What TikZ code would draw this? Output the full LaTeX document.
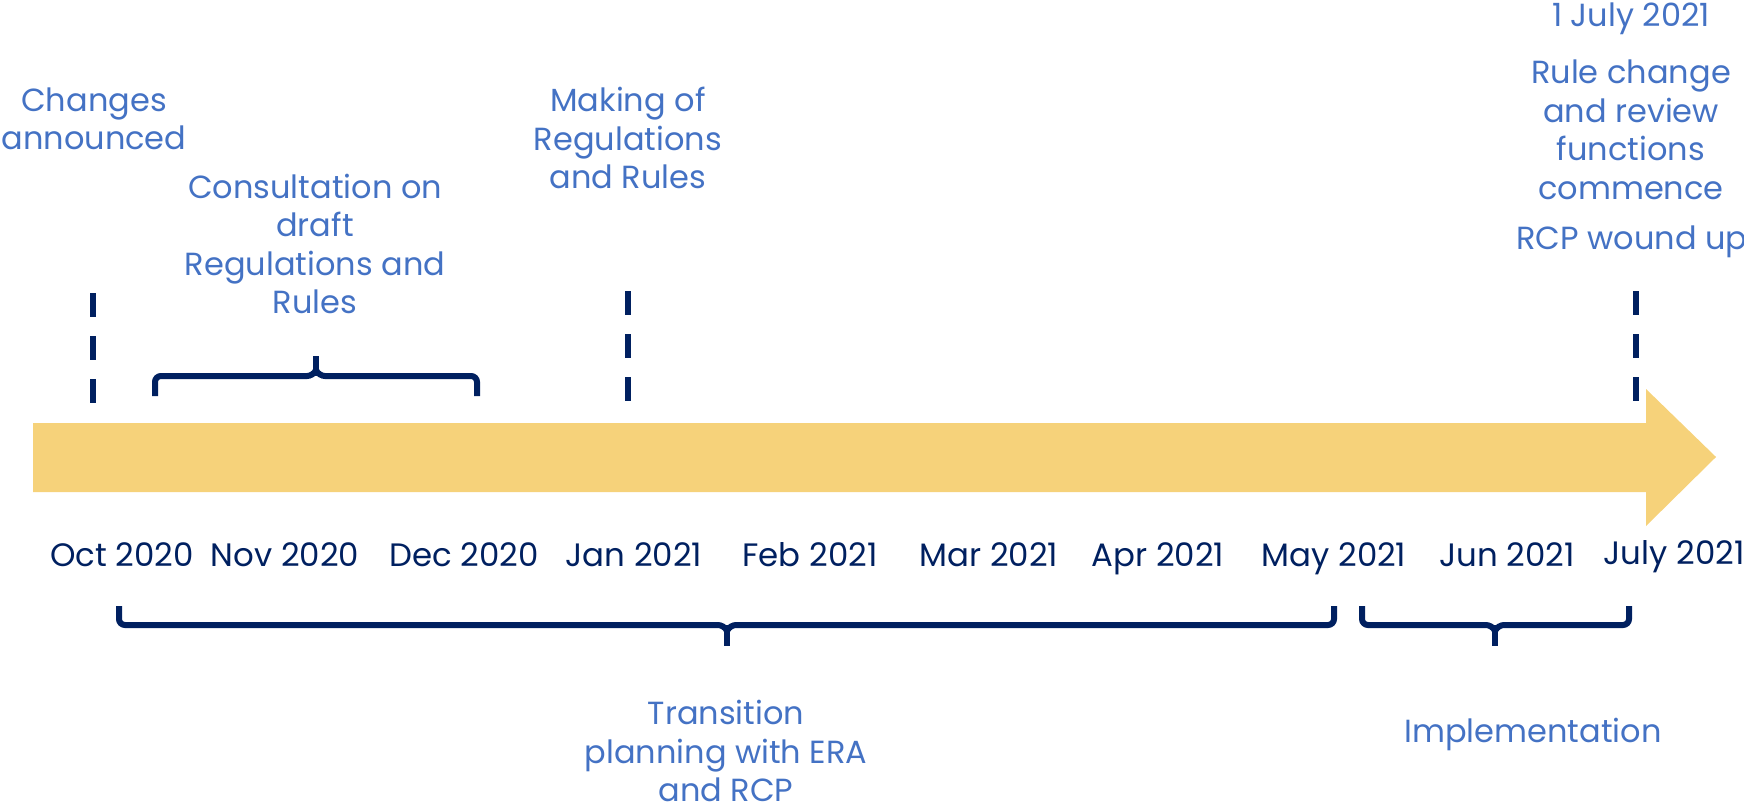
\documentclass[tikz,border=0pt]{standalone}
\usepackage{fontspec}
\setmainfont{Poppins}
\definecolor{txtblue}{HTML}{4472C4}
\definecolor{navy}{HTML}{002060}
\definecolor{arrowyellow}{HTML}{F6D27A}
\begin{document}
\begin{tikzpicture}[x=1pt,y=-1pt,
  lbl/.style={text=txtblue, align=center, font=\fontsize{32}{38.5}\selectfont, inner sep=0pt},
  month/.style={text=navy, font=\fontsize{32.4}{36}\selectfont, inner sep=0pt, anchor=base},
  dashline/.style={draw=navy, line width=6.5pt, dash pattern=on 24pt off 19pt},
  bracket/.style={draw=navy, line width=6pt, rounded corners=6pt}]
\useasboundingbox (0,0) rectangle (1744,805);
% timeline arrow
\fill[arrowyellow] (33,423) -- (1646,423) -- (1646,389) -- (1716,457) -- (1646,526) -- (1646,492) -- (33,492) -- cycle;
% top labels
\node[lbl] (chg) at (94,119) {Changes\\announced};
\node[lbl] (cons) at (315,244) {Consultation on\\draft\\Regulations and\\Rules};
\node[lbl] (mak) at (628,138) {Making of\\Regulations\\and Rules};
\node[lbl] (jul1) at (1631,19) {1 July 2021};
\node[lbl] (rule) at (1631,130) {Rule change\\and review\\functions\\commence};
\node[lbl] (rcp) at (1632,242) {RCP wound up};
% dashed markers
\coordinate (d1a) at (93,293); \coordinate (d1b) at (93,403);
\coordinate (d2a) at (628,291); \coordinate (d2b) at (628,401);
\coordinate (d3a) at (1636,291); \coordinate (d3b) at (1636,401);
\draw[dashline] (d1a) -- (d1b);
\draw[dashline] (d2a) -- (d2b);
\draw[dashline] (d3a) -- (d3b);
% consultation bracket
\draw[bracket] (155,396) -- (155,376) -- (313,376) -- (316,370);
\draw[bracket] (477,396) -- (477,376) -- (319,376) -- (316,370);
\draw[navy, line width=6pt] (316,376) -- (316,356);
% months
\node[month] (oct) at (122,566) {Oct 2020};
\node[month] (nov) at (285,566) {Nov 2020};
\node[month] (dec) at (464,566) {Dec 2020};
\node[month] (jan) at (634,566) {Jan 2021};
\node[month] (feb) at (810,566) {Feb 2021};
\node[month] (mar) at (989,566) {Mar 2021};
\node[month] (apr) at (1158,566) {Apr 2021};
\node[month] (may) at (1334,566) {May 2021};
\node[month] (jun) at (1507,566) {Jun 2021};
\node[month] (jly) at (1674,564) {July 2021};
% transition bracket
\draw[bracket] (119,606) -- (119,625) -- (724,625) -- (727,631);
\draw[bracket] (1334,606) -- (1334,625) -- (730,625) -- (727,631);
\draw[navy, line width=6pt] (727,625) -- (727,646);
% implementation bracket
\draw[bracket] (1362,606) -- (1362,625) -- (1492,625) -- (1495,631);
\draw[bracket] (1629,606) -- (1629,625) -- (1498,625) -- (1495,631);
\draw[navy, line width=6pt] (1495,625) -- (1495,646);
% bottom labels
\node[lbl] (trans) at (726,751) {Transition\\planning with ERA\\and RCP};
\node[lbl] (impl) at (1533,734) {Implementation};
\end{tikzpicture}
\end{document}
